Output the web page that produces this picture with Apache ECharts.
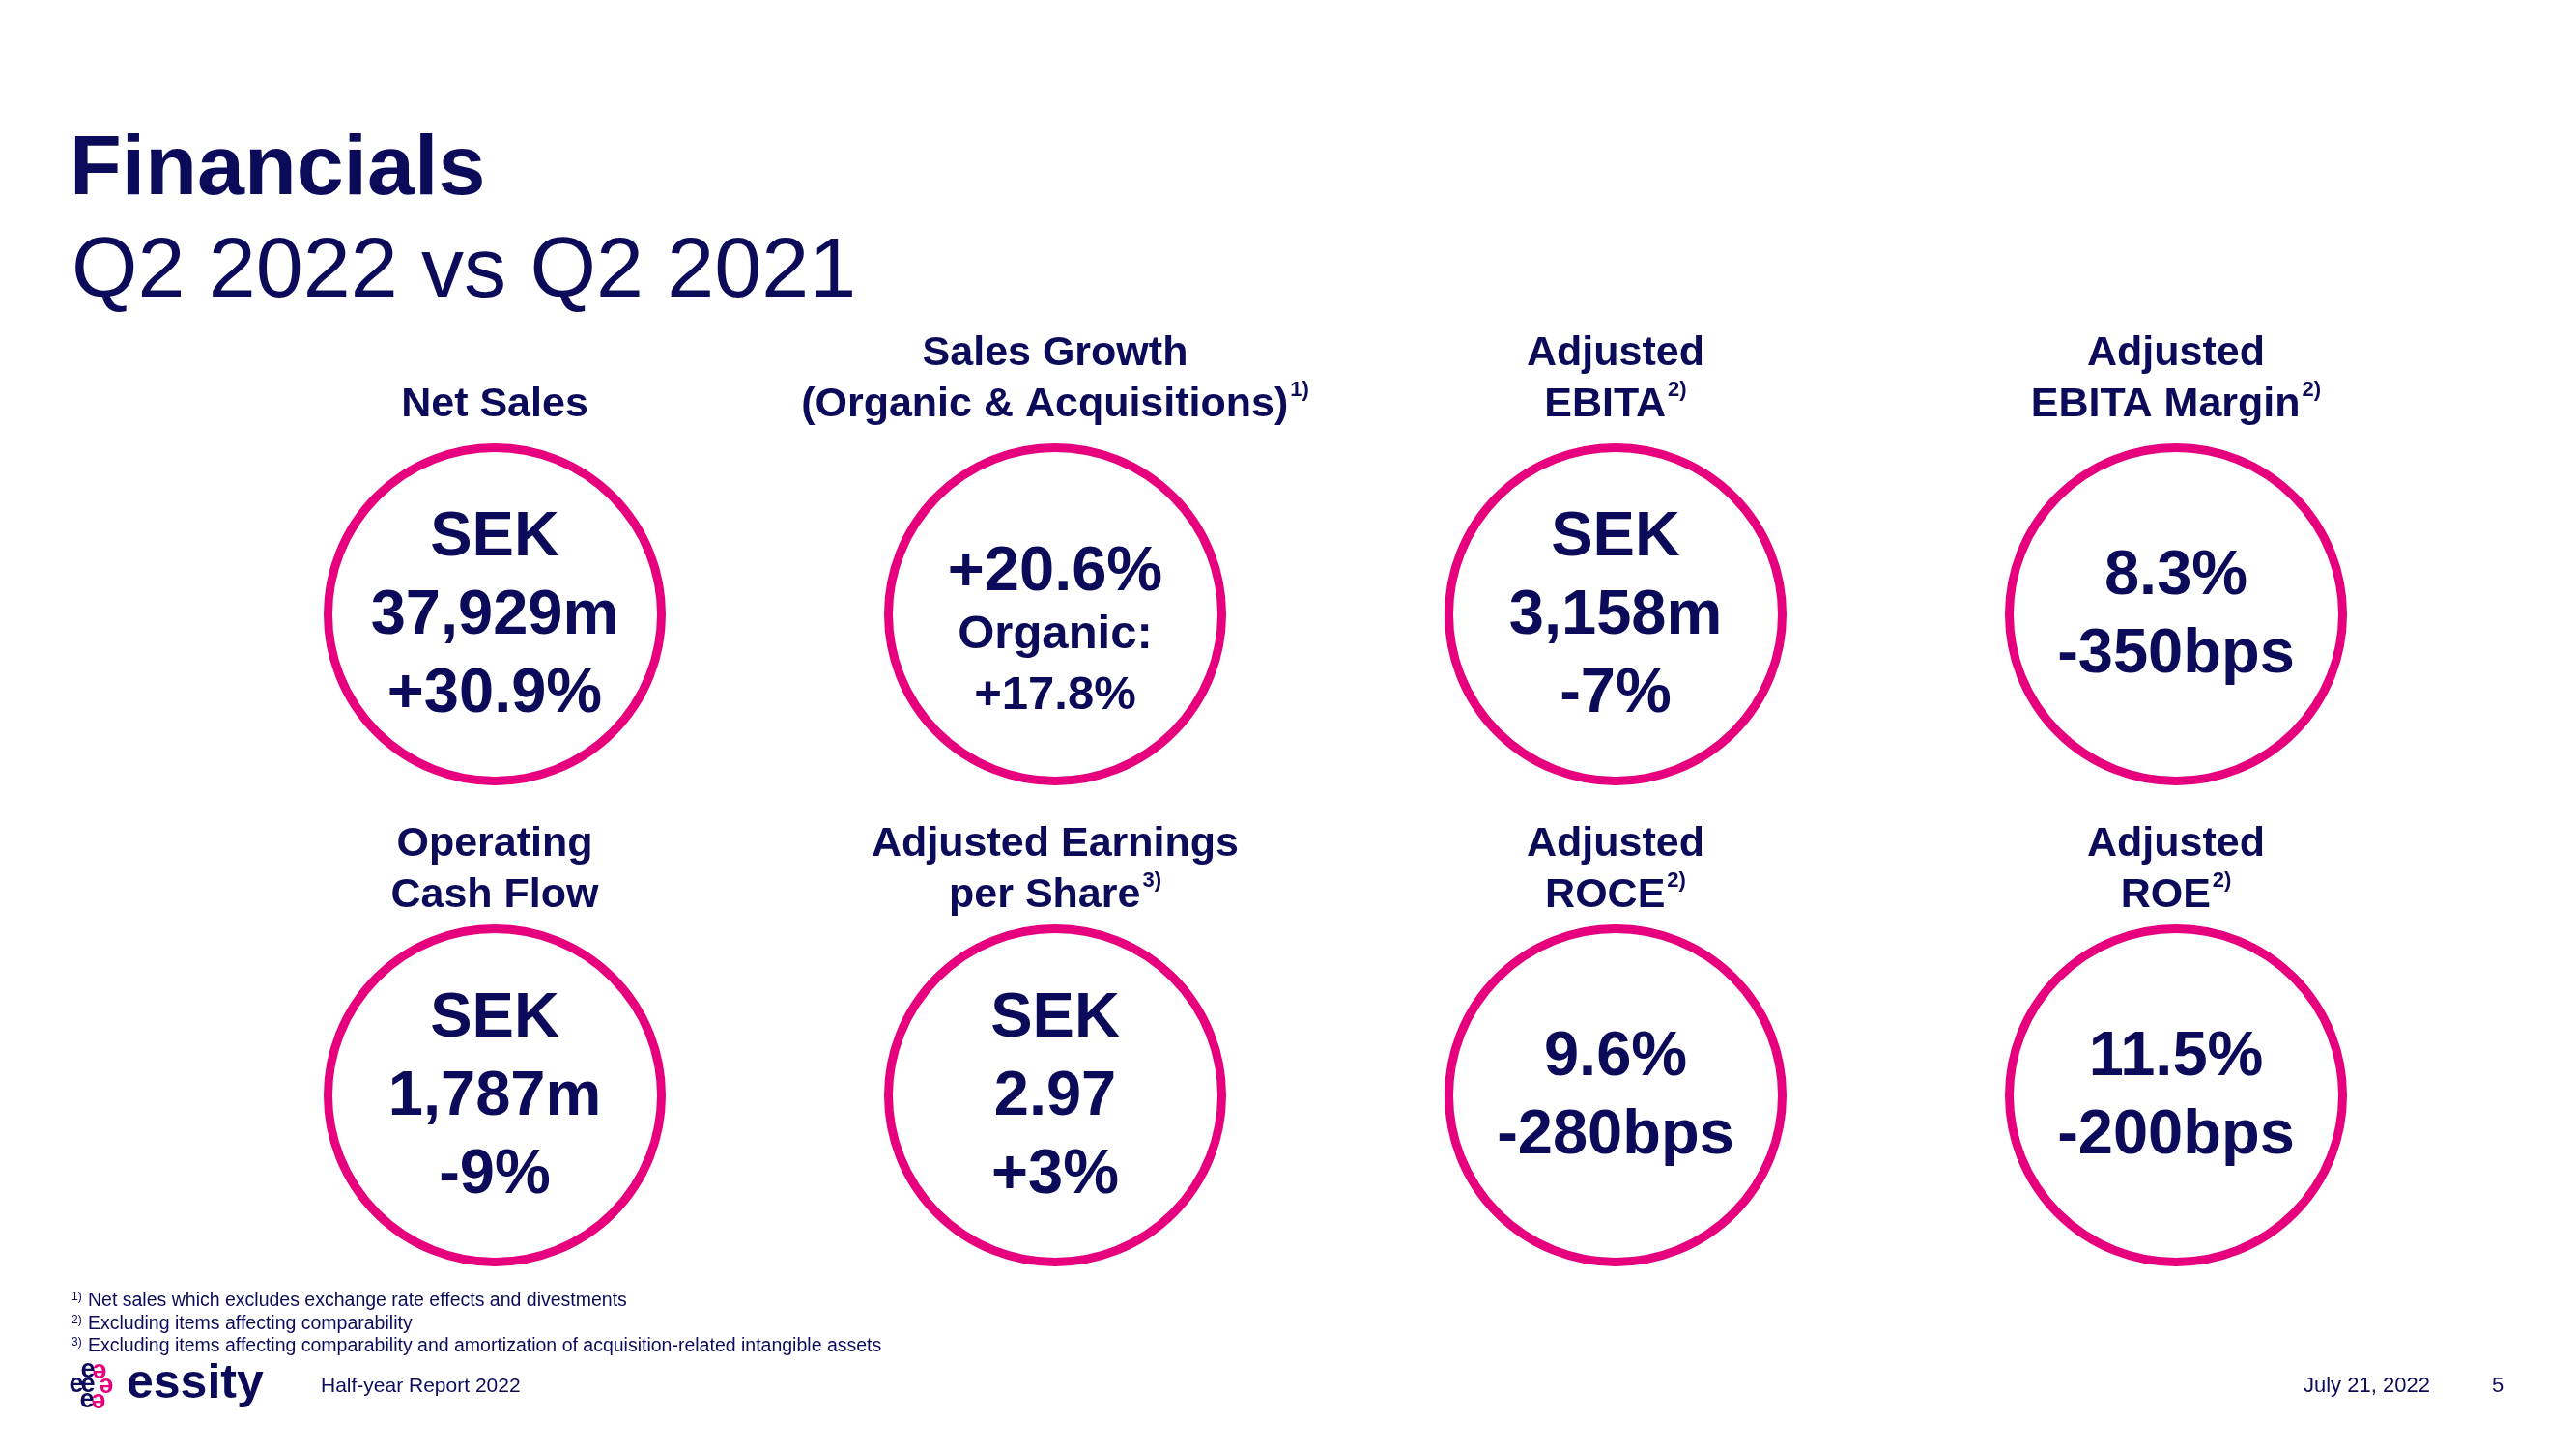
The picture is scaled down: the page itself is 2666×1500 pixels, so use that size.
<!DOCTYPE html>
<html>
<head>
<meta charset="utf-8">
<script src="https://cdn.jsdelivr.net/npm/echarts@6/dist/echarts.min.js"></script>
<style>
  html, body { margin: 0; padding: 0; background: #ffffff; }
  #chart { width: 2666px; height: 1500px; }
</style>
</head>
<body>
<div id="chart"></div>
<script>
// ---------- data ----------
const columns = ['col1', 'col2', 'col3', 'col4'];
const rows = ['row1', 'row2'];
const kpiCol = [0, 1, 2, 3, 0, 1, 2, 3];
const kpiRow = [0, 0, 0, 0, 1, 1, 1, 1];
const kpiTitleLine1 = ['', 'Sales Growth', 'Adjusted', 'Adjusted', 'Operating', 'Adjusted Earnings', 'Adjusted', 'Adjusted'];
const kpiTitleLine2 = ['Net Sales', '(Organic & Acquisitions)', 'EBITA', 'EBITA Margin', 'Cash Flow', 'per Share', 'ROCE', 'ROE'];
const kpiNotes = ['', '1)', '2)', '2)', '', '3)', '2)', '2)'];
const kpiLines = [
  ['SEK', '37,929m', '+30.9%'],
  ['+20.6%', 'Organic:', '+17.8%'],
  ['SEK', '3,158m', '-7%'],
  ['8.3%', '-350bps'],
  ['SEK', '1,787m', '-9%'],
  ['SEK', '2.97', '+3%'],
  ['9.6%', '-280bps'],
  ['11.5%', '-200bps']
];
const footnoteMarks = ['1)', '2)', '3)'];
const footnoteTexts = [
  'Net sales which excludes exchange rate effects and divestments',
  'Excluding items affecting comparability',
  'Excluding items affecting comparability and amortization of acquisition-related intangible assets'
];
const titleText = 'Financials';
const subtitleText = 'Q2 2022 vs Q2 2021';
const reportText = 'Half-year Report 2022';
const dateText = 'July 21, 2022';
const pageText = '5';
const brandText = 'essity';

// ---------- styles ----------
const NAVY = '#0b0b5a';
const PINK = '#e6007e';
const FONT = '"Liberation Sans", Arial, Helvetica, sans-serif';

function valueFormatter(i) {
  const lines = kpiLines[i];
  if (i === 1) {
    return '{b2|' + lines[0] + '}\n{s|' + lines[1] + '}\n{s|' + lines[2] + '}';
  }
  return lines.map(l => '{b|' + l + '}').join('\n');
}
function titleFormatter(i) {
  const parts = [];
  if (kpiTitleLine1[i]) parts.push('{t|' + kpiTitleLine1[i] + '}');
  let l2 = '{t|' + kpiTitleLine2[i] + '}';
  if (kpiNotes[i]) l2 += '{sup|' + kpiNotes[i] + '}';
  parts.push(l2);
  return parts.join('\n');
}

const circleData = kpiLines.map((l, i) => ({
  value: [kpiCol[i], kpiRow[i]],
  label: { formatter: valueFormatter(i), offset: [0, i === 1 ? 20 : 2] }
}));
const titleData = kpiTitleLine2.map((t, i) => ({
  value: [kpiCol[i], kpiRow[i]],
  label: { formatter: titleFormatter(i), offset: [0, kpiRow[i] === 0 ? -190 : -180] }
}));

const graphics = [
  { type: 'text', x: 72, y: 177, silent: true,
    style: { text: titleText, font: 'bold 88px ' + FONT, fill: NAVY, align: 'left', verticalAlign: 'middle' } },
  { type: 'text', x: 74, y: 283, silent: true,
    style: { text: subtitleText, font: '88px ' + FONT, fill: NAVY, align: 'left', verticalAlign: 'middle' } }
];
const footY = [1347, 1371, 1394];
footnoteTexts.forEach((t, i) => {
  graphics.push({ type: 'text', x: 74, y: footY[i] - 4, silent: true,
    style: { text: footnoteMarks[i], font: '12px ' + FONT, fill: NAVY, align: 'left', verticalAlign: 'middle' } });
  graphics.push({ type: 'text', x: 91, y: footY[i], silent: true,
    style: { text: t, font: '19.5px ' + FONT, fill: NAVY, align: 'left', verticalAlign: 'middle' } });
});
// logo mark
const logoE = [
  [91, 1419, NAVY, 0], [103, 1419, PINK, 1],
  [79, 1434, NAVY, 0], [91, 1434, NAVY, 0], [110, 1434, PINK, 1],
  [90, 1450, NAVY, 0], [102, 1450, PINK, 1]
];
logoE.forEach(e => {
  graphics.push({ type: 'text', x: e[0], y: e[1], rotation: e[3] ? Math.PI : 0, silent: true,
    style: { text: 'e', font: 'bold 27px ' + FONT, fill: e[2], align: 'center', verticalAlign: 'middle' } });
});
graphics.push({ type: 'text', x: 131, y: 1433, silent: true,
  style: { text: brandText, font: 'bold 50px ' + FONT, fill: NAVY, align: 'left', verticalAlign: 'middle' } });
graphics.push({ type: 'text', x: 332, y: 1435, silent: true,
  style: { text: reportText, font: '21px ' + FONT, fill: NAVY, align: 'left', verticalAlign: 'middle' } });
graphics.push({ type: 'text', x: 2384, y: 1435, silent: true,
  style: { text: dateText, font: '22px ' + FONT, fill: NAVY, align: 'left', verticalAlign: 'middle' } });
graphics.push({ type: 'text', x: 2585, y: 1435, silent: true,
  style: { text: pageText, font: '22px ' + FONT, fill: NAVY, align: 'center', verticalAlign: 'middle' } });

const chart = echarts.init(document.getElementById('chart'), null, { renderer: 'canvas' });
chart.setOption({
  backgroundColor: '#ffffff',
  animation: false,
  grid: { left: 222, width: 2320, top: 387, height: 996 },
  xAxis: { type: 'category', data: columns, show: false, boundaryGap: true },
  yAxis: { type: 'category', data: rows, show: false, inverse: true, boundaryGap: true },
  graphic: graphics,
  series: [
    {
      type: 'scatter',
      name: 'KPI',
      silent: true,
      symbol: 'circle',
      symbolSize: 345,
      itemStyle: { color: '#ffffff', borderColor: PINK, borderWidth: 9, opacity: 1 },
      label: {
        show: true,
        position: 'inside',
        align: 'center',
        verticalAlign: 'middle',
        color: NAVY,
        textBorderWidth: 0,
        fontFamily: FONT,
        rich: {
          b: { fontSize: 65, fontWeight: 'bold', lineHeight: 81, color: NAVY, fontFamily: FONT },
          b2: { fontSize: 65, fontWeight: 'bold', lineHeight: 65, color: NAVY, fontFamily: FONT },
          s: { fontSize: 49, fontWeight: 'bold', lineHeight: 63, color: NAVY, fontFamily: FONT }
        }
      },
      data: circleData
    },
    {
      type: 'scatter',
      name: 'Titles',
      silent: true,
      symbol: 'circle',
      symbolSize: 1,
      itemStyle: { color: '#ffffff', opacity: 1 },
      label: {
        show: true,
        position: 'inside',
        align: 'center',
        verticalAlign: 'bottom',
        color: NAVY,
        opacity: 1,
        textBorderWidth: 0,
        fontFamily: FONT,
        rich: {
          t: { fontSize: 43, fontWeight: 'bold', lineHeight: 53, color: NAVY, fontFamily: FONT, textBorderWidth: 0 },
          sup: { fontSize: 22, fontWeight: 'bold', lineHeight: 38, verticalAlign: 'top', color: NAVY, fontFamily: FONT, padding: [0, 0, 0, 2], textBorderWidth: 0 }
        }
      },
      data: titleData
    }
  ]
});
</script>
</body>
</html>
